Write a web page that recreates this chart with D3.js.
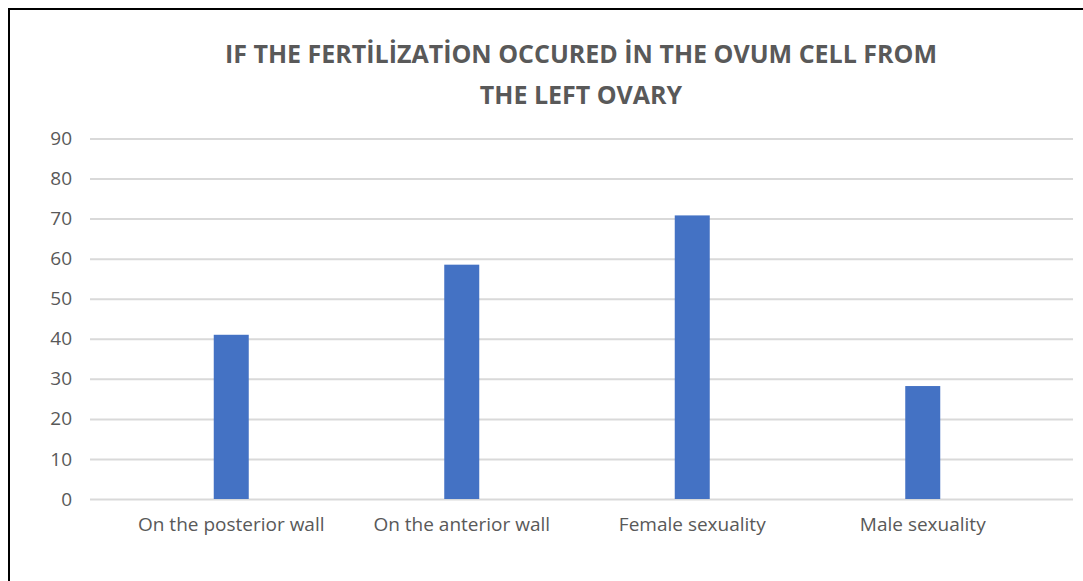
<!DOCTYPE html>
<html lang="en">
  <head>
    <meta charset="utf-8">
    <title>Left ovary fertilization</title>
    <script type="text/javascript" src="https://d3js.org/d3.v7.min.js"></script>
    <style>
    body {
      margin:0;
      background-color:#ffffff;
    }
    text {
      font-family:"Open Sans", "Noto Sans", sans-serif;
      fill:#595959;
    }
    </style>
  </head>
  <body>
    <div id="chart"></div>
    <script type="text/javascript">
    // data
    const categories = ["On the posterior wall", "On the anterior wall", "Female sexuality", "Male sexuality"];
    const values = [41, 58.5, 70.8, 28.2];
    const yTicks = [0, 10, 20, 30, 40, 50, 60, 70, 80, 90];
    const titleLines = ["IF THE FERTİLİZATİON OCCURED İN THE OVUM CELL FROM", "THE LEFT OVARY"];

    const width = 1083, height = 581;
    const svg = d3.select("#chart").append("svg").attr("width", width).attr("height", height);

    // frame (only left and top edges are inside the picture)
    svg.append("rect").attr("x", 9).attr("y", 9).attr("width", 1200).attr("height", 700)
      .attr("fill", "#ffffff").attr("stroke", "#000000").attr("stroke-width", 2);

    const x = d3.scaleBand().domain(categories).range([116, 1038]);
    const y = d3.scaleLinear().domain([0, 90]).range([499, 138.5]);

    // gridlines + tick labels
    const gridLeft = 90, gridRight = 1073;
    const yAxis = svg.append("g").attr("transform", `translate(${gridLeft},0)`)
      .call(d3.axisLeft(y).tickValues(yTicks).tickSize(-(gridRight - gridLeft)).tickPadding(18));
    yAxis.select(".domain").remove();
    yAxis.selectAll(".tick line").attr("stroke", "#d9d9d9").attr("stroke-width", 2);
    yAxis.selectAll(".tick text").attr("font-size", "19px").attr("fill", "#595959")
      .attr("font-family", "'Open Sans', sans-serif");

    // bars
    const barW = 35;
    svg.append("g").selectAll("rect").data(values).join("rect")
      .attr("x", (d, i) => x(categories[i]) + x.bandwidth() / 2 - barW / 2)
      .attr("width", barW)
      .attr("y", d => y(d))
      .attr("height", d => y(0) - y(d))
      .attr("fill", "#4472c4");

    // category labels
    const xAxis = svg.append("g").attr("transform", `translate(0,${y(0)})`)
      .call(d3.axisBottom(x).tickSize(0).tickPadding(19));
    xAxis.select(".domain").remove();
    xAxis.selectAll(".tick text").attr("font-size", "19px").attr("fill", "#595959")
      .attr("font-family", "'Open Sans', sans-serif");

    // title
    svg.append("g").selectAll("text").data(titleLines).join("text")
      .attr("x", 581)
      .attr("y", (d, i) => 63 + i * 41)
      .attr("text-anchor", "middle")
      .attr("font-size", "25px")
      .attr("font-weight", "bold")
      .attr("fill", "#595959")
      .text(d => d);
    </script>
  </body>
</html>
